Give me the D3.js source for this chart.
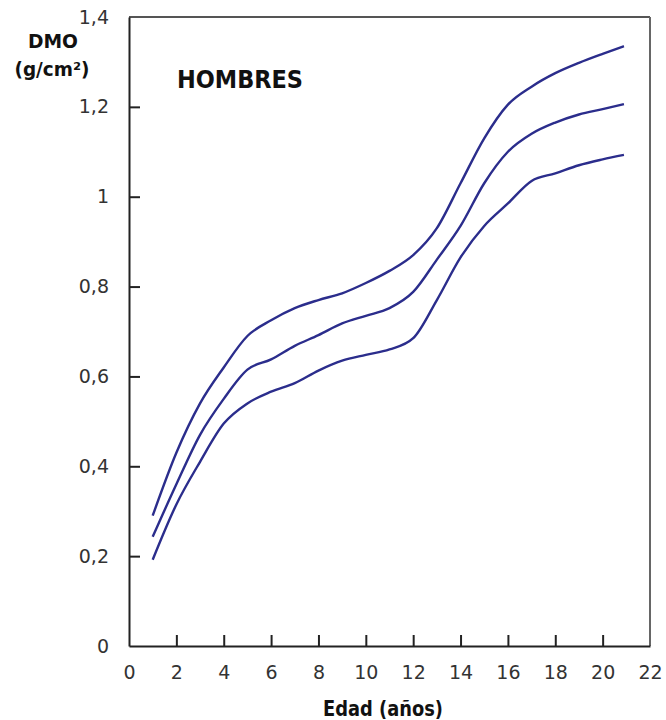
<!DOCTYPE html>
<html>
<head>
<meta charset="utf-8">
<script src="https://cdn.jsdelivr.net/npm/d3@7"></script>
<style>
  body { margin: 0; background: #fff; }
  text { font-family: "DejaVu Sans", "Liberation Sans", sans-serif; }
</style>
</head>
<body>
<svg id="chart" width="666" height="720"></svg>
<script>
// ages (years) and bone mineral density curves (g/cm2)
var ages   = [1, 2, 3, 4, 5, 6, 7, 8, 9, 10, 11, 12, 13, 14, 15, 16, 17, 18, 19, 20, 20.9];
var upper  = [0.29, 0.43, 0.54, 0.62, 0.69, 0.725, 0.752, 0.77, 0.785, 0.808, 0.835, 0.87, 0.93, 1.03, 1.13, 1.205, 1.245, 1.275, 1.298, 1.318, 1.335];
var middle = [0.243, 0.36, 0.47, 0.55, 0.615, 0.638, 0.668, 0.692, 0.718, 0.735, 0.752, 0.788, 0.86, 0.935, 1.03, 1.10, 1.14, 1.165, 1.183, 1.195, 1.206];
var lower  = [0.192, 0.315, 0.41, 0.495, 0.54, 0.566, 0.585, 0.613, 0.635, 0.648, 0.66, 0.685, 0.77, 0.865, 0.935, 0.985, 1.035, 1.052, 1.07, 1.083, 1.093];
var xTicks = [0, 2, 4, 6, 8, 10, 12, 14, 16, 18, 20, 22];
var yTicks = [0, 0.2, 0.4, 0.6, 0.8, 1, 1.2, 1.4];

var svg = d3.select("svg#chart");

var x = d3.scaleLinear().domain([0, 22]).range([129, 650]);
var y = d3.scaleLinear().domain([0, 1.4]).range([646, 17]);

var fmt = function (d) { return String(d).replace(".", ","); };

// frame: top and right borders
svg.append("line")
  .attr("x1", x(0)).attr("x2", x(22))
  .attr("y1", y(1.4)).attr("y2", y(1.4))
  .attr("stroke", "#555").attr("stroke-width", 2);
svg.append("line")
  .attr("x1", x(22)).attr("x2", x(22))
  .attr("y1", y(1.4)).attr("y2", y(0))
  .attr("stroke", "#666").attr("stroke-width", 2);

// x axis, ticks pointing inward
var xAxis = svg.append("g")
  .attr("transform", "translate(0," + y(0) + ")")
  .call(d3.axisBottom(x).tickValues(xTicks).tickSizeInner(-11).tickSizeOuter(0).tickPadding(20).tickFormat(fmt));
xAxis.select(".domain").attr("stroke", "#222").attr("stroke-width", 2);
xAxis.selectAll(".tick line").attr("stroke", "#222").attr("stroke-width", 2)
  .attr("display", function (d) { return (d == 0 || d == 22) ? "none" : null; });
xAxis.selectAll(".tick text").attr("font-size", 19).attr("fill", "#333")
  .attr("font-family", "'DejaVu Sans', sans-serif");

// y axis
var yAxis = svg.append("g")
  .attr("transform", "translate(" + x(0) + ",0)")
  .call(d3.axisLeft(y).tickValues(yTicks).tickSizeInner(-11).tickSizeOuter(0).tickPadding(20).tickFormat(fmt));
yAxis.select(".domain").attr("stroke", "#222").attr("stroke-width", 2);
yAxis.selectAll(".tick line").attr("stroke", "#222").attr("stroke-width", 2)
  .attr("display", function (d) { return (d == 0 || d == 1.4) ? "none" : null; });
yAxis.selectAll(".tick text").attr("font-size", 19).attr("fill", "#333")
  .attr("font-family", "'DejaVu Sans', sans-serif");

// curves
var line = d3.line()
  .x(function (d) { return x(d[0]); })
  .y(function (d) { return y(d[1]); })
  .curve(d3.curveMonotoneX);

[upper, middle, lower].forEach(function (series) {
  svg.append("path")
    .datum(ages.map(function (a, i) { return [a, series[i]]; }))
    .attr("fill", "none")
    .attr("stroke", "#2b2d8c")
    .attr("stroke-width", 2.4)
    .attr("d", line);
});

// labels
svg.append("text").attr("x", 53).attr("y", 48).attr("text-anchor", "middle")
  .attr("font-size", 20).attr("font-weight", "bold").attr("fill", "#111")
  .attr("textLength", 50).attr("lengthAdjust", "spacingAndGlyphs").text("DMO");
svg.append("text").attr("x", 52).attr("y", 76).attr("text-anchor", "middle")
  .attr("font-size", 19).attr("font-weight", "bold").attr("fill", "#111")
  .attr("textLength", 75).attr("lengthAdjust", "spacingAndGlyphs").text("(g/cm²)");
svg.append("text").attr("x", 177).attr("y", 88)
  .attr("font-size", 25).attr("font-weight", "bold").attr("fill", "#111")
  .attr("font-family", "'Liberation Sans', sans-serif")
  .attr("textLength", 126).attr("lengthAdjust", "spacingAndGlyphs").text("HOMBRES");
svg.append("text").attr("x", 383).attr("y", 716).attr("text-anchor", "middle")
  .attr("font-size", 22).attr("font-weight", "bold").attr("fill", "#111")
  .attr("textLength", 120).attr("lengthAdjust", "spacingAndGlyphs").text("Edad (años)");
</script>
</body>
</html>
